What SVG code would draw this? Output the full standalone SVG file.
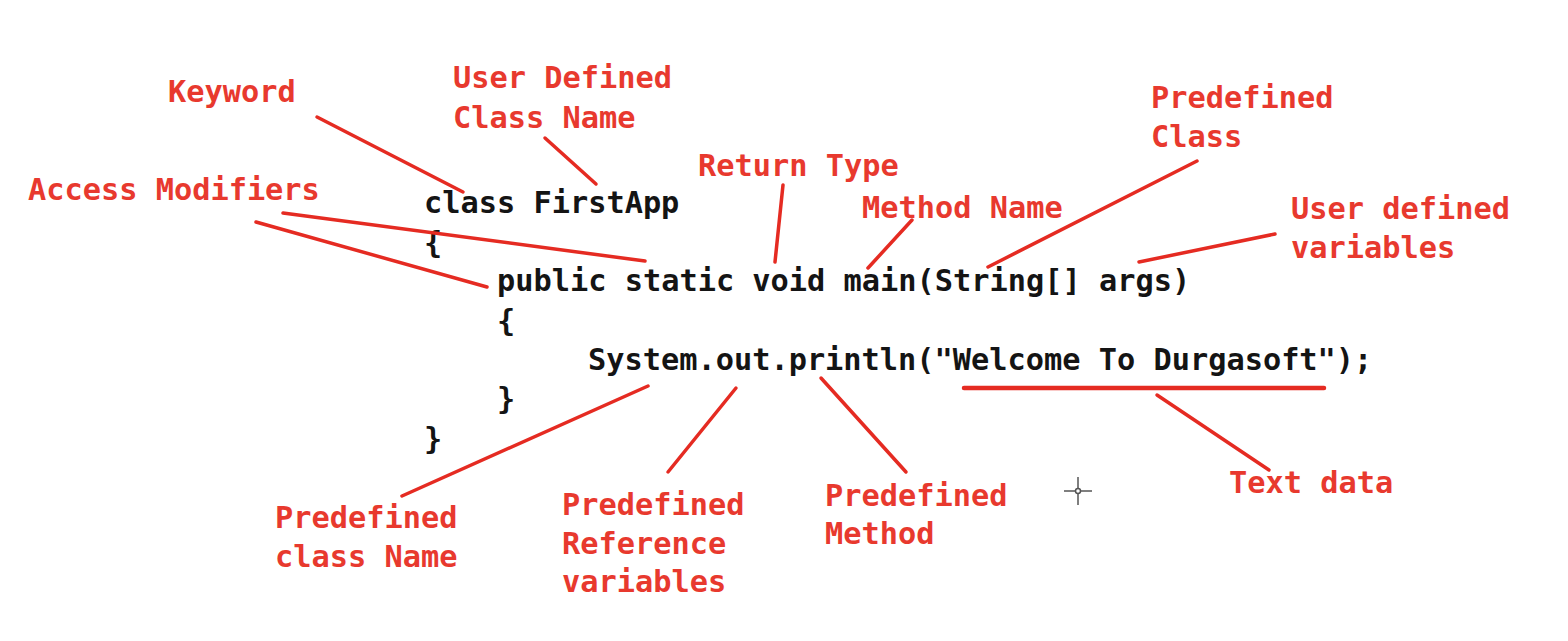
<svg xmlns="http://www.w3.org/2000/svg" width="1568" height="641" viewBox="0 0 1568 641">
<style>
.code{font-family:"DejaVu Sans Mono","Liberation Mono",monospace;font-weight:bold;font-size:30.3px;fill:#141414}
.lbl{font-family:"DejaVu Sans Mono","Liberation Mono",monospace;font-weight:bold;font-size:30.3px;fill:#e8392e}
.ln{stroke:#e52b22;stroke-width:3.5;stroke-linecap:round;fill:none}
</style>
<rect width="1568" height="641" fill="#ffffff"/>
<g id="code">
<text class="code" x="424" y="213">class FirstApp</text>
<text class="code" x="424" y="253">{</text>
<text class="code" x="497" y="291">public static void main(String[] args)</text>
<text class="code" x="497" y="331">{</text>
<text class="code" x="588" y="370">System.out.println("Welcome To Durgasoft");</text>
<text class="code" x="497" y="409">}</text>
<text class="code" x="424" y="449">}</text>
</g>
<g id="connectors">
<line class="ln" x1="317" y1="117" x2="463" y2="192"/>
<line class="ln" x1="545" y1="138" x2="596" y2="184"/>
<line class="ln" x1="283" y1="213" x2="645" y2="261"/>
<line class="ln" x1="256" y1="222" x2="487" y2="287"/>
<line class="ln" x1="783" y1="185" x2="775" y2="262"/>
<line class="ln" x1="912" y1="220" x2="868" y2="268"/>
<line class="ln" x1="1197" y1="161" x2="988" y2="267"/>
<line class="ln" x1="1275" y1="234" x2="1139" y2="262"/>
<line class="ln" x1="648" y1="386" x2="402" y2="496"/>
<line class="ln" x1="736" y1="388" x2="668" y2="472"/>
<line class="ln" x1="821" y1="378" x2="906" y2="472"/>
<line class="ln" x1="964" y1="388" x2="1324" y2="388" style="stroke-width:4.5"/>
<line class="ln" x1="1157" y1="395" x2="1269" y2="470"/>
</g>
<g id="keyword"><text class="lbl" x="168" y="102">Keyword</text></g>
<g id="user-defined-class-name"><text class="lbl" x="453" y="88">User Defined</text><text class="lbl" x="453" y="128">Class Name</text></g>
<g id="access-modifiers"><text class="lbl" x="28" y="200">Access Modifiers</text></g>
<g id="return-type"><text class="lbl" x="698" y="176">Return Type</text></g>
<g id="method-name"><text class="lbl" x="862" y="218">Method Name</text></g>
<g id="predefined-class"><text class="lbl" x="1151" y="108">Predefined</text><text class="lbl" x="1151" y="147">Class</text></g>
<g id="user-defined-variables"><text class="lbl" x="1291" y="219">User defined</text><text class="lbl" x="1291" y="258">variables</text></g>
<g id="predefined-class-name"><text class="lbl" x="275" y="528">Predefined</text><text class="lbl" x="275" y="567">class Name</text></g>
<g id="predefined-reference-variables"><text class="lbl" x="562" y="515">Predefined</text><text class="lbl" x="562" y="554">Reference</text><text class="lbl" x="562" y="592">variables</text></g>
<g id="predefined-method"><text class="lbl" x="825" y="506">Predefined</text><text class="lbl" x="825" y="544">Method</text></g>
<g id="text-data"><text class="lbl" x="1229" y="493">Text data</text></g>
<g id="cursor" stroke="#555" stroke-width="1.5" fill="none">
<line x1="1078" y1="477" x2="1078" y2="505"/>
<line x1="1064" y1="491" x2="1092" y2="491"/>
<circle cx="1078" cy="491" r="2.5" fill="#fff"/>
</g>
</svg>
